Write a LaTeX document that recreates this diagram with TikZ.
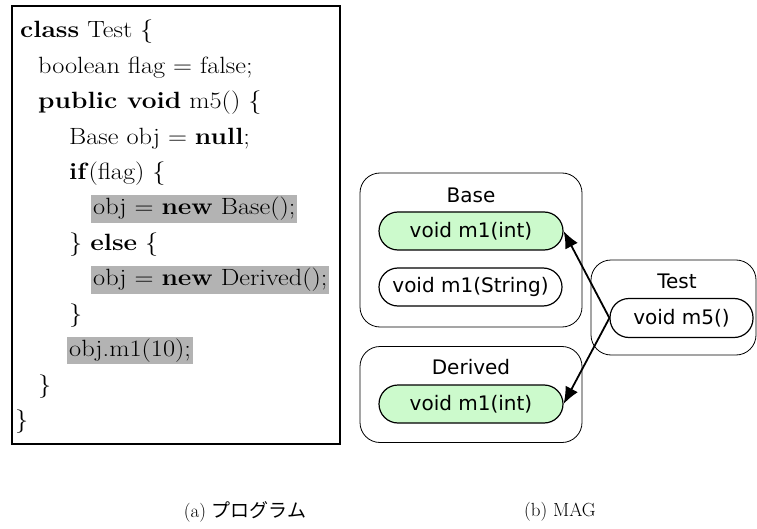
\documentclass[tikz,border=0pt]{standalone}
\usepackage{fontspec}
\newfontfamily\codefont{Latin Modern Roman}[FakeStretch=1.12]
\newfontfamily\dejavu{DejaVu Sans}
\newfontfamily\jpfont{Noto Sans CJK JP}
\usetikzlibrary{arrows.meta,positioning}
\definecolor{hitgreen}{RGB}{204,250,204}
\definecolor{hlgray}{RGB}{179,179,179}

\begin{document}
\begin{tikzpicture}
		[x=1pt, y=1pt,
		codesty/.style={anchor=base west, inner sep=2pt, font=\codefont\fontsize{23.5}{28}\selectfont},
		hlsty/.style={codesty, fill=hlgray},
		clssty/.style={draw, rounded corners=20pt, line width=0.8pt},
		titlesty/.style={inner sep=0pt, font=\dejavu\fontsize{20}{24}\selectfont},
		methsty/.style={draw, rounded corners=19pt, line width=1.2pt, minimum height=38pt, inner sep=0pt, font=\dejavu\fontsize{20}{24}\selectfont},
		hitsty/.style={methsty, fill=hitgreen},
		callsty/.style={-{Latex[length=17pt,width=14pt]}, line width=1.8pt}]
		\useasboundingbox (0,0) rectangle (757,-529);
		
		% program
		\node (prog) at (176,-225) [draw, line width=2.5pt, minimum width=328pt, minimum height=438pt] {};
		\node (l1)  at (18, -38.0) [codesty] {\textbf{class} Test \{};
		\node (l2)  at (36, -73.4) [codesty] {boolean flag = false;};
		\node (l3)  at (36,-108.8) [codesty] {\textbf{public void} m5() \{};
		\node (l4)  at (67,-144.2) [codesty] {Base obj = \textbf{null};};
		\node (l5)  at (67,-179.6) [codesty] {\textbf{if}(flag) \{};
		\node (l6)  at (91,-215.0) [hlsty]   {obj = \textbf{new} Base();};
		\node (l7)  at (67,-250.4) [codesty] {\} \textbf{else} \{};
		\node (l8)  at (91,-285.8) [hlsty]   {obj = \textbf{new} Derived();};
		\node (l9)  at (67,-321.2) [codesty] {\}};
		\node (l10) at (67,-356.6) [hlsty]   {obj.m1(10);};
		\node (l11) at (36,-392.0) [codesty] {\}};
		\node (l12) at (13,-427.4) [codesty] {\}};
		
		% MAG
		\node (base) at (471,-250) [clssty, minimum width=222pt, minimum height=154pt] {};
		\node (derived) at (471,-394.5) [clssty, minimum width=222pt, minimum height=96pt] {};
		\node (test) at (673.5,-307.5) [clssty, minimum width=165pt, minimum height=95pt] {};
		
		\node (base title) at (471,-195) [titlesty] {Base};
		\node (derived title) at (471,-367) [titlesty] {Derived};
		\node (test title) at (677,-281) [titlesty] {Test};
		
		\node (base m1) at (471,-231) [hitsty, minimum width=184pt] {void m1(int)};
		\node (base m1s) at (470.5,-287) [methsty, minimum width=183pt] {void m1(String)};
		\node (derived m1) at (471,-404) [hitsty, minimum width=184pt] {void m1(int)};
		\node (test m5) at (681.5,-318) [methsty, minimum width=143pt, minimum height=39pt] {void m5()};
		
		\draw[callsty] (test m5.west) -- (base m1.east);
		\draw[callsty] (test m5.west) -- (derived m1.east);
		
		% captions
		\node (cap a) at (245,-512) [font=\fontsize{19}{23}\selectfont] {(a) {\jpfont プログラム}};
		\node (cap b) at (560,-512) [font=\fontsize{19}{23}\selectfont] {(b) MAG};
	\end{tikzpicture}
\end{document}
